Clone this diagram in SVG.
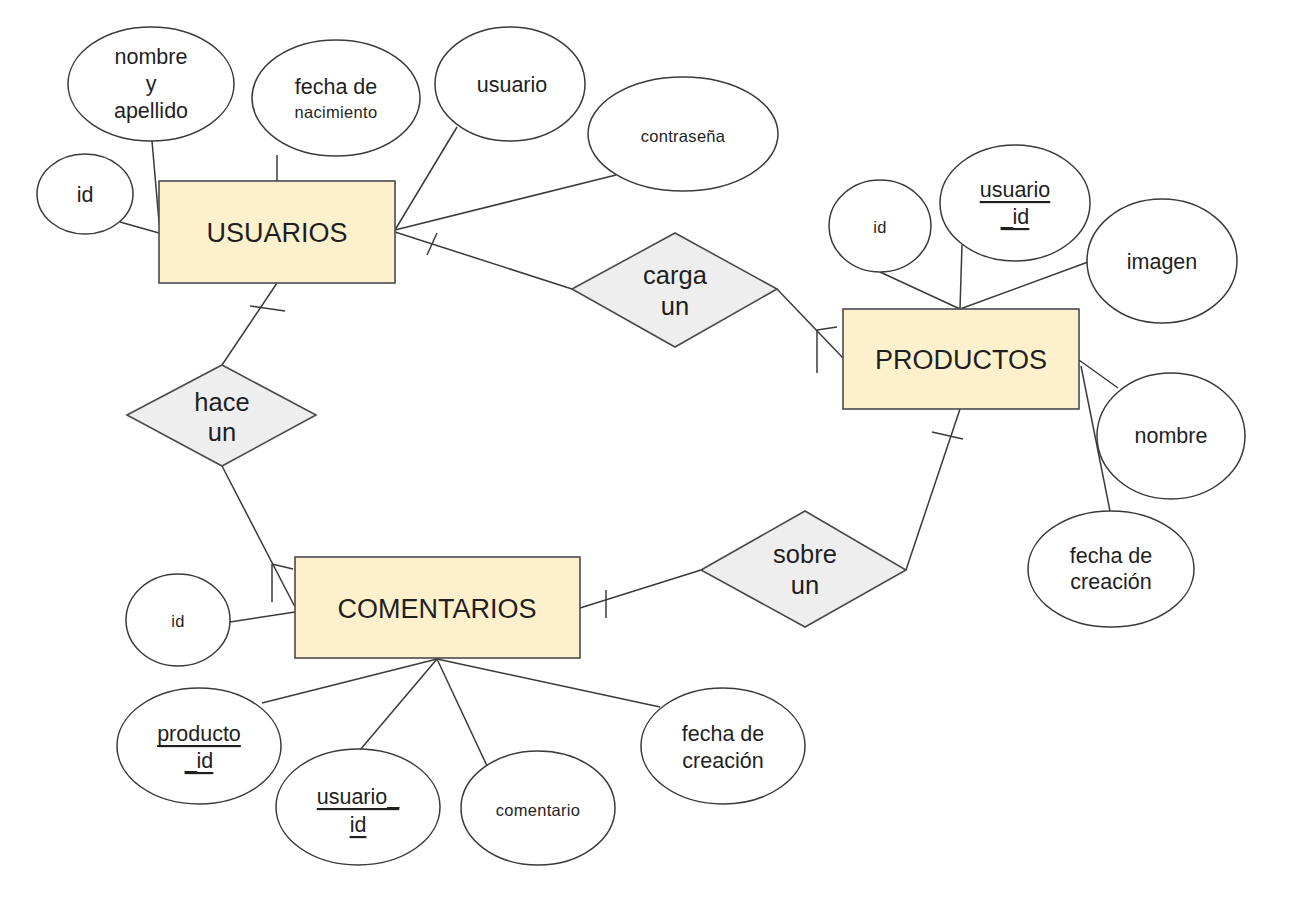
<svg xmlns="http://www.w3.org/2000/svg" width="1308" height="904" viewBox="0 0 1308 904">
<style>
.ent{fill:#fdf1cd;stroke:#4a4a4a;stroke-width:1.6}
.rel{fill:#eeeeee;stroke:#4a4a4a;stroke-width:1.6}
.att{fill:#ffffff;stroke:#3a3a3a;stroke-width:1.5}
.ln{stroke:#3a3a3a;stroke-width:1.5;fill:none}
text{font-family:"Liberation Sans",Arial,sans-serif;fill:#1f1f1f;text-anchor:middle;dominant-baseline:central}
.big{font-size:27px}
.mid{font-size:25.5px}
.a{font-size:21.5px}
.s{font-size:16.5px;letter-spacing:0.3px}
.u{text-decoration:underline}
</style>
<rect width="1308" height="904" fill="#ffffff"/>
<g id="connectors">
<line class="ln" x1="152" y1="141" x2="159" y2="222"/>
<line class="ln" x1="277" y1="155" x2="277" y2="181"/>
<line class="ln" x1="120" y1="222" x2="159" y2="233"/>
<line class="ln" x1="457" y1="127" x2="395" y2="230"/>
<line class="ln" x1="616" y1="175" x2="395" y2="230"/>
<line class="ln" x1="395" y1="232" x2="572" y2="289"/>
<line class="ln" x1="427" y1="255" x2="437" y2="233"/>
<line class="ln" x1="777" y1="289" x2="843" y2="358"/>
<line class="ln" x1="817" y1="330" x2="817" y2="373"/>
<line class="ln" x1="817" y1="330" x2="837" y2="327"/>
<line class="ln" x1="880" y1="272" x2="960" y2="309"/>
<line class="ln" x1="962" y1="245" x2="960" y2="309"/>
<line class="ln" x1="1088" y1="262" x2="960" y2="309"/>
<line class="ln" x1="1079" y1="360" x2="1118" y2="388"/>
<line class="ln" x1="1081" y1="366" x2="1110" y2="511"/>
<line class="ln" x1="960" y1="409" x2="906" y2="570"/>
<line class="ln" x1="932" y1="432" x2="963" y2="439"/>
<line class="ln" x1="277" y1="283" x2="222" y2="365"/>
<line class="ln" x1="250" y1="306" x2="285" y2="311"/>
<line class="ln" x1="222" y1="466" x2="295" y2="607"/>
<line class="ln" x1="272" y1="564" x2="272" y2="602"/>
<line class="ln" x1="272" y1="564" x2="293" y2="569"/>
<line class="ln" x1="230" y1="622" x2="295" y2="612"/>
<line class="ln" x1="580" y1="608" x2="701" y2="570"/>
<line class="ln" x1="606" y1="590" x2="606" y2="618"/>
<line class="ln" x1="437" y1="659" x2="262" y2="703"/>
<line class="ln" x1="437" y1="659" x2="360" y2="750"/>
<line class="ln" x1="437" y1="659" x2="488" y2="768"/>
<line class="ln" x1="437" y1="659" x2="660" y2="707"/>
</g>
<g id="usuarios"><rect class="ent" x="159" y="181" width="236" height="102"/><text class="big" x="277" y="233">USUARIOS</text></g>
<g id="u_nombre"><ellipse class="att" cx="151" cy="84" rx="83" ry="57"/><text class="a" x="151" y="57">nombre</text><text class="a" x="151" y="84">y</text><text class="a" x="151" y="111">apellido</text></g>
<g id="u_fecha"><ellipse class="att" cx="336" cy="98" rx="84" ry="58"/><text class="a" x="336" y="87">fecha de</text><text class="s" x="336" y="112">nacimiento</text></g>
<g id="u_usuario"><ellipse class="att" cx="510" cy="84" rx="75" ry="57"/><text class="a" x="512" y="85">usuario</text></g>
<g id="u_contrasena"><ellipse class="att" cx="683" cy="134" rx="95" ry="57"/><text class="s" x="683" y="136">contraseña</text></g>
<g id="u_id"><ellipse class="att" cx="85" cy="194" rx="48" ry="40"/><text class="a" x="85" y="195">id</text></g>
<g id="carga"><polygon class="rel" points="572,289 675,233 777,289 675,347"/><text class="mid" x="675" y="275">carga</text><text class="mid" x="675" y="306">un</text></g>
<g id="productos"><rect class="ent" x="843" y="309" width="236" height="100"/><text class="big" x="961" y="360">PRODUCTOS</text></g>
<g id="p_id"><ellipse class="att" cx="880" cy="226" rx="51" ry="46"/><text class="s" x="880" y="227">id</text></g>
<g id="p_usuario_id"><ellipse class="att" cx="1015" cy="203" rx="75" ry="58"/><text class="a u" x="1015" y="190">usuario</text><text class="a u" x="1015" y="217">_id</text></g>
<g id="p_imagen"><ellipse class="att" cx="1162" cy="261" rx="75" ry="62"/><text class="a" x="1162" y="262">imagen</text></g>
<g id="p_nombre"><ellipse class="att" cx="1171" cy="436" rx="74" ry="63"/><text class="a" x="1171" y="436">nombre</text></g>
<g id="p_fecha"><ellipse class="att" cx="1111" cy="569" rx="83" ry="58"/><text class="a" x="1111" y="556">fecha de</text><text class="a" x="1111" y="582">creación</text></g>
<g id="hace"><polygon class="rel" points="127,415 222,365 316,415 222,466"/><text class="mid" x="222" y="402">hace</text><text class="mid" x="222" y="432">un</text></g>
<g id="comentarios"><rect class="ent" x="295" y="557" width="285" height="101"/><text class="big" x="437" y="609">COMENTARIOS</text></g>
<g id="c_id"><ellipse class="att" cx="178" cy="620" rx="52" ry="46"/><text class="s" x="178" y="621">id</text></g>
<g id="sobre"><polygon class="rel" points="701,570 805,511 906,570 805,627"/><text class="mid" x="805" y="554">sobre</text><text class="mid" x="805" y="585">un</text></g>
<g id="c_producto_id"><ellipse class="att" cx="199" cy="746" rx="82" ry="58"/><text class="a u" x="199" y="734">producto</text><text class="a u" x="199" y="761">_id</text></g>
<g id="c_usuario_id"><ellipse class="att" cx="358" cy="807" rx="82" ry="58"/><text class="a u" x="358" y="797">usuario_</text><text class="a u" x="358" y="825">id</text></g>
<g id="c_comentario"><ellipse class="att" cx="538" cy="808" rx="77" ry="57"/><text class="s" x="538" y="810">comentario</text></g>
<g id="c_fecha"><ellipse class="att" cx="723" cy="746" rx="82" ry="58"/><text class="a" x="723" y="734">fecha de</text><text class="a" x="723" y="761">creación</text></g>
</svg>
